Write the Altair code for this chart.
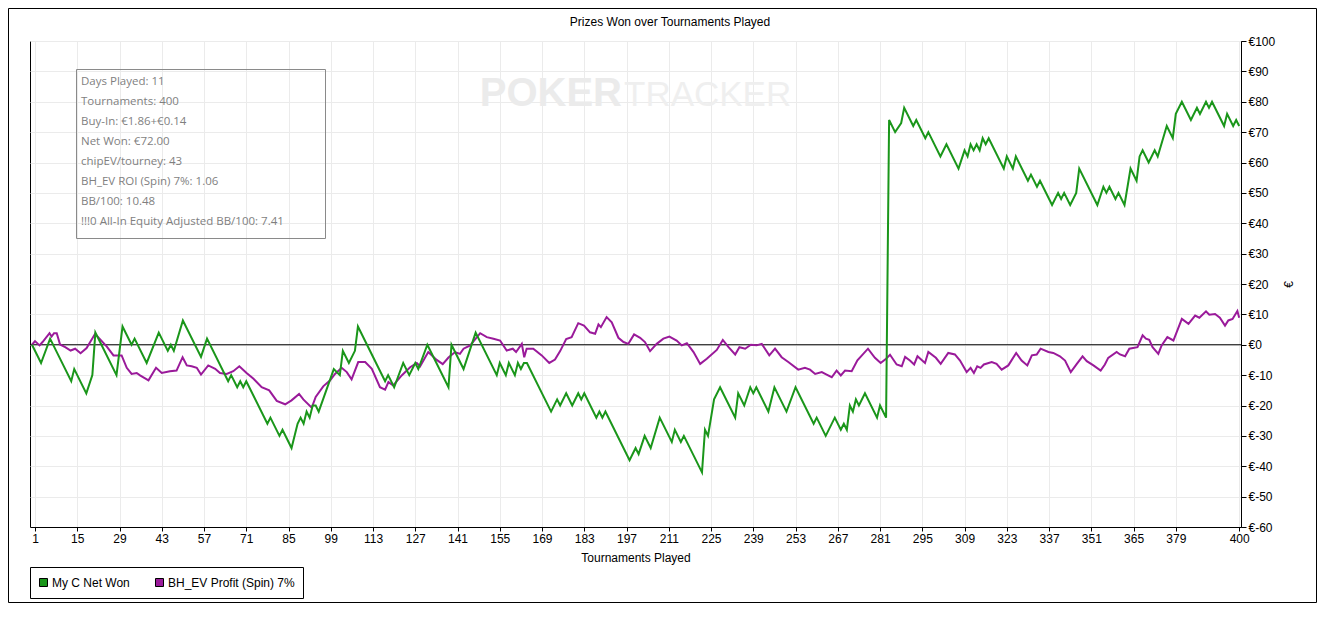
import altair as alt
import pandas as pd

SERIES = ["My C Net Won", "BH_EV Profit (Spin) 7%"]
COLORS = ["#1a961a", "#9a1a9a"]

green_t = [0, 3, 6, 13, 14, 18, 20, 21, 28, 30, 33, 34, 38, 42, 45, 46, 47, 50, 56, 58,
           65, 66, 68, 69, 70, 71, 78, 79, 82, 83, 86, 88, 89, 90, 91, 92, 93, 94, 95, 100,
           102, 103, 105, 107, 108, 117, 118, 120, 123, 125, 127, 128, 131, 138, 139, 143, 147, 154, 155, 157,
           158, 160, 161, 162, 163, 164, 172, 174, 175, 177, 179, 181, 182, 183, 187, 188, 189, 190, 198, 200,
           201, 203, 205, 208, 212, 213, 215, 216, 222, 223, 224, 226, 228, 233, 234, 236, 238, 239, 240, 244,
           246, 250, 253, 259, 260, 263, 266, 268, 269, 270, 271, 272, 273, 274, 276, 280, 281, 283, 284, 286,
           288, 289, 292, 293, 296, 297, 301, 303, 307, 309, 310, 311, 312, 313, 314, 315, 316, 317, 322, 323,
           325, 326, 330, 331, 333, 334, 338, 340, 341, 342, 344, 346, 347, 353, 355, 356, 357, 359, 360, 362,
           364, 366, 367, 368, 370, 372, 373, 376, 378, 379, 381, 384, 386, 387, 389, 390, 391, 395, 396, 398,
           399, 400]
green_v = [0, -6, 2, -12, -8, -16, -10, 4, -10, 6, 0, 2, -6, 4, -2, 0, -2, 8, -4, 2,
           -12, -10, -14, -12, -14, -12, -26, -24, -30, -28, -34, -26, -24, -26, -22, -24, -20, -20, -22, -8,
           -10, -2, -6, -2, 6, -12, -10, -14, -6, -10, -6, -8, 0, -14, 0, -8, 4, -10, -6, -10,
           -6, -10, -6, -8, -6, -6, -22, -18, -20, -16, -20, -16, -18, -16, -24, -22, -24, -22, -38, -34,
           -36, -30, -34, -24, -32, -28, -32, -30, -42, -28, -30, -18, -14, -24, -16, -20, -14, -16, -14, -22,
           -14, -22, -14, -26, -24, -30, -24, -28, -26, -28, -20, -22, -18, -20, -16, -24, -20, -24, 74, 70,
           73, 78, 72, 74, 68, 70, 62, 66, 58, 64, 62, 66, 64, 66, 64, 68, 66, 68, 58, 62,
           58, 62, 54, 56, 52, 54, 46, 50, 48, 50, 46, 50, 58, 46, 52, 50, 52, 48, 50, 46,
           58, 54, 62, 64, 60, 64, 62, 72, 68, 76, 80, 74, 78, 76, 80, 78, 80, 72, 76, 72,
           74, 72]

purple_t = [0, 1, 2.5, 3.5, 5.8, 6.5, 7.3, 8.2, 9.3, 11, 12.8, 14.3, 16.1, 18.1, 20.9, 24.8, 27, 29.7, 31.4, 33,
            34.7, 35.8, 38.6, 41.1, 43, 45.7, 47.9, 49.9, 51.3, 52.9, 54.6, 56, 58.4, 60.7, 62.3, 64.5, 66.7, 68.7, 71.1, 73.4,
            76.1, 78.6, 81.1, 83.9, 86, 88.5, 89.9, 92.7, 94, 96.5, 98.8, 100.4, 102.6, 104.3, 105.9, 108.1, 110.4, 112.6, 115.3, 117,
            118.1, 119.7, 122.5, 125.3, 127.5, 128.6, 131.3, 134.1, 136.1, 138, 140.2, 141.8, 143, 145.2, 148.5, 150.7, 152.9, 155.1, 157.3, 159.3,
            160.4, 162.3, 163.1, 163.9, 166.1, 168.9, 171.4, 173.3, 175, 177, 178.8, 181, 182.9, 184.9, 186.6, 187.7, 188.5, 190.4, 192.1, 194.3,
            196, 197.6, 199.5, 201.5, 203.1, 204.8, 207, 209.2, 211.2, 213.6, 215.3, 217, 219.2, 221.4, 223.6, 226.9, 228.9, 230.8, 233, 234.4,
            236.3, 238.2, 240.1, 241.8, 244.3, 246.2, 248.4, 250.6, 253.9, 256.1, 257.8, 259.5, 261.7, 263.3, 265, 266.6, 268, 269.4, 271.6, 273.5,
            277, 279.3, 281.2, 283, 284.3, 286.5, 288.2, 289.3, 290.9, 292.3, 293.4, 295.9, 297, 299.5, 301.1, 303.6, 305.8, 307.5, 309.7, 311,
            312.1, 313.2, 314.3, 315.4, 318, 319.6, 321.3, 323.5, 326.1, 327.9, 329.8, 331.3, 332.9, 334.2, 336.8, 338.4, 340.6, 342.3, 344.2, 346.2,
            348.1, 349.5, 351.7, 354.1, 355.5, 356.6, 359.4, 360.5, 362.2, 363.6, 366.3, 368, 369.1, 370.2, 371.3, 373.2, 374.3, 376.2, 378.2, 381,
            383.2, 385.4, 386.8, 389, 390.1, 392, 393.6, 395.3, 396.4, 397.8, 399.4, 400]
purple_v = [0, 1.2, -0.2, 0.9, 3.8, 2.7, 3.8, 3.8, 0.1, -0.8, -1.9, -1.3, -2.8, -1.1, 3.6, -0.6, -3.5, -3.5, -7.6, -9.6,
            -9.3, -10.1, -11.7, -7.6, -9.3, -8.7, -8.5, -4.1, -6.8, -7.1, -7.6, -9.8, -6.8, -7.9, -9.3, -9.6, -8.7, -7.1, -9.3, -11.2,
            -14, -15, -18.5, -19.6, -18.3, -16.2, -18, -20.7, -17.2, -13.7, -11.7, -9.6, -7.6, -9, -11.4, -5.7, -5.7, -7.9, -14, -14.8,
            -12.3, -13.4, -10.1, -7.4, -6, -7.1, -2.4, -5, -6.4, -4.2, -2.4, -3, -1.3, -0.2, 3.8, 2.5, 2, 1.4, -1.9, -1.3,
            -2.4, 0.3, -4.1, -1.3, -1.3, -3.5, -6, -4.9, -2.1, 1.9, 2.5, 7.1, 6.3, 4.1, 3.6, 6.7, 5.8, 9.1, 7.4, 2.3,
            0.9, 0.3, 3.4, 2.3, 0.9, -2.1, 0.3, 2, 2.7, 1.4, -0.2, 0.5, -2.4, -6.3, -4.6, -1.7, 1.6, -0.8, -3.2, -0.8,
            -1.3, 0, -0.2, 0.3, -3.5, -1.3, -4.1, -5.7, -8.2, -7.6, -8.2, -9.6, -9, -9.8, -10.7, -8.5, -10.1, -8.5, -8.7, -5.1,
            -1.3, -4.3, -6, -4.6, -3.3, -6.5, -7.1, -4, -5.2, -6.5, -3.8, -6, -2.4, -4.3, -6.3, -2.7, -3.2, -5.2, -9, -7.6,
            -9.3, -7.1, -7.6, -6.5, -5.7, -6.3, -8.2, -6.8, -2.7, -5.2, -6.8, -3.5, -3.2, -1.3, -2.4, -2.7, -3.8, -5.2, -9, -6.3,
            -3.8, -5.4, -6.8, -8.5, -6.5, -4.3, -2.4, -3.2, -3.8, -1.3, -0.8, 3.1, 2, 1.6, -0.8, -3, -0.2, 2.5, 1.4, 8.5,
            6.9, 9.6, 8.9, 11, 9.9, 10.1, 8.9, 6.3, 8, 8.5, 11.1, 8.9]

x_ticks = [1, 15, 29, 43, 57, 71, 85, 99, 113, 127, 141, 155, 169, 183, 197, 211, 225,
           239, 253, 267, 281, 295, 309, 323, 337, 351, 365, 379, 400]
y_ticks = list(range(-60, 101, 10))

chart_title = "Prizes Won over Tournaments Played"
x_title = "Tournaments Played"
y_title = "€"
info_lines = [
    "Days Played: 11",
    "Tournaments: 400",
    "Buy-In: €1.86+€0.14",
    "Net Won: €72.00",
    "chipEV/tourney: 43",
    "BH_EV ROI (Spin) 7%: 1.06",
    "BB/100: 10.48",
    "!!!0 All-In Equity Adjusted BB/100: 7.41",
]

FONT = "Liberation Sans"
W, H = 1211, 486

green_df = pd.DataFrame({"t": green_t, "v": green_v, "series": SERIES[0]})
purple_df = pd.DataFrame({"t": purple_t, "v": purple_v, "series": SERIES[1]})

xs = alt.Scale(domain=[-0.66, 400.6], nice=False, zero=False)
ys = alt.Scale(domain=[-60, 100], nice=False, zero=False)
cs = alt.Scale(domain=SERIES, range=COLORS)

x_axis = alt.Axis(values=x_ticks, grid=True, gridColor="#ebebeb", domainColor="black",
                  tickColor="black", tickSize=4, labelPadding=2, labelFont=FONT,
                  labelFontSize=12, labelColor="black", title=x_title, titleFont=FONT,
                  titleFontSize=12, titleFontWeight="normal", titleColor="black",
                  titlePadding=8, labelOverlap=False)
y_axis = alt.Axis(values=y_ticks, orient="right", grid=True, gridColor="#ebebeb",
                  domainColor="black", tickColor="black", tickSize=5, labelPadding=2,
                  labelFont=FONT, labelFontSize=12, labelColor="black",
                  labelExpr="'€' + datum.value", title=y_title, titleFont=FONT,
                  titleFontSize=12, titleFontWeight="normal", titleColor="black",
                  titleAngle=270, titlePadding=21, labelOverlap=False)

one = pd.DataFrame({"a": [0]})

zero_rule = alt.Chart(pd.DataFrame({"z": [0]})).mark_rule(color="black", strokeWidth=1).encode(
    y=alt.Y("z:Q", scale=ys, axis=y_axis)
)

purple_line = alt.Chart(purple_df).mark_line(strokeWidth=2, clip=True).encode(
    x=alt.X("t:Q", scale=xs, axis=x_axis),
    y=alt.Y("v:Q", scale=ys, axis=y_axis),
    color=alt.Color("series:N", scale=cs, legend=None),
)
green_line = alt.Chart(green_df).mark_line(strokeWidth=2, clip=True).encode(
    x=alt.X("t:Q", scale=xs, axis=x_axis),
    y=alt.Y("v:Q", scale=ys, axis=y_axis),
    color=alt.Color("series:N", scale=cs, legend=None),
)

watermark1 = alt.Chart(one).mark_text(text="POKER", font="Liberation Sans",
                                      fontSize=40, fontWeight="bold", color="#ebebeb",
                                      align="right", baseline="alphabetic").encode(
    x=alt.value(592), y=alt.value(65))
watermark2 = alt.Chart(one).mark_text(text="TRACKER", font="Liberation Sans",
                                      fontSize=35, fontWeight="normal", color="#efefef",
                                      align="left", baseline="alphabetic").encode(
    x=alt.value(594), y=alt.value(65))

info_box = alt.Chart(one).mark_rect(fill="white", fillOpacity=0, stroke="#8a8a8a", strokeWidth=1).encode(
    x=alt.value(46.5), x2=alt.value(295.5), y=alt.value(28.5), y2=alt.value(197.5))
info_text = alt.Chart(one).mark_text(text=info_lines, font="Open Sans", fontSize=11.5, lineHeight=20,
                                     color="#7f7f7f", align="left", baseline="middle").encode(
    x=alt.value(51), y=alt.value(40.7))

title_text = alt.Chart(one).mark_text(text=chart_title, font=FONT, fontSize=12, color="black",
                                      align="center", baseline="middle").encode(
    x=alt.value(640), y=alt.value(-19))

legend_box = alt.Chart(one).mark_rect(fill="white", stroke="black", strokeWidth=1).encode(
    x=alt.value(0.5), x2=alt.value(273.5), y=alt.value(526.5), y2=alt.value(557.5))
leg_sq1 = alt.Chart(pd.DataFrame({"series": [SERIES[0]]})).mark_square(size=64, stroke="black",
                                                                      strokeWidth=1, opacity=1).encode(
    x=alt.value(13.5), y=alt.value(541.5), color=alt.Color("series:N", scale=cs, legend=None))
leg_sq2 = alt.Chart(pd.DataFrame({"series": [SERIES[1]]})).mark_square(size=64, stroke="black",
                                                                      strokeWidth=1, opacity=1).encode(
    x=alt.value(129.5), y=alt.value(541.5), color=alt.Color("series:N", scale=cs, legend=None))
leg_txt1 = alt.Chart(one).mark_text(text=SERIES[0], font=FONT, fontSize=12, color="black",
                                    align="left", baseline="middle").encode(
    x=alt.value(22), y=alt.value(541.5))
leg_txt2 = alt.Chart(one).mark_text(text=SERIES[1], font=FONT, fontSize=12, color="black",
                                    align="left", baseline="middle").encode(
    x=alt.value(138), y=alt.value(541.5))

outer = alt.Chart(one).mark_rect(fill="white", fillOpacity=0, stroke="black", strokeWidth=1).encode(
    x=alt.value(-21.5), x2=alt.value(1286.5), y=alt.value(-32.5), y2=alt.value(561.5))

chart = alt.layer(
    watermark1, watermark2, zero_rule, purple_line, green_line, info_box, info_text,
    title_text, legend_box, leg_sq1, leg_sq2, leg_txt1, leg_txt2, outer
).resolve_scale(color="shared").properties(
    width=W, height=H,
    autosize=alt.AutoSizeParams(type="none"),
    padding={"left": 22, "top": 33, "right": 76, "bottom": 76},
    background="white",
).configure_view(stroke="black", strokeWidth=1)

chart.save("out.html", embed_options={"renderer": "svg", "actions": False})
